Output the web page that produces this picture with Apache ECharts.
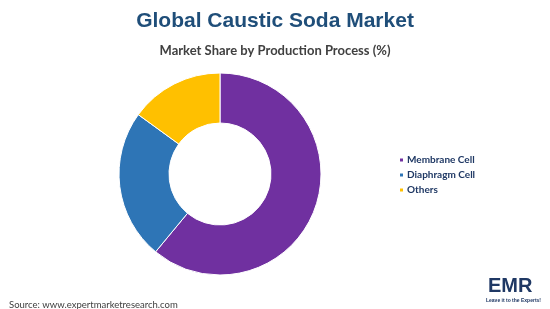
<!DOCTYPE html>
<html><head><meta charset="utf-8">
<script src="https://cdn.jsdelivr.net/npm/echarts@6/dist/echarts.min.js"></script>
<style>html,body{margin:0;padding:0;background:#fff}#c{width:550px;height:309px}</style>
</head><body><div id="c"></div>
<script>
const categories = ['Membrane Cell', 'Diaphragm Cell', 'Others'];
const shares = [61, 24, 15];
const colors = ['#7030A0', '#2E75B6', '#FFC000'];

const chart = echarts.init(document.getElementById('c'), null, {renderer: 'canvas'});
chart.setOption({
  animation: false,
  title: [
    {text: 'Global Caustic Soda Market', left: 'center', top: 6,
     textStyle: {fontFamily: 'Liberation Sans', fontWeight: 'bold', fontSize: 21, color: '#1F4E79'}},
    {text: 'Market Share by Production Process (%)', left: 'center', top: 39,
     textStyle: {fontFamily: 'Lato', fontWeight: 'bold', fontSize: 13, color: '#404040'}},
    {text: 'Source: www.expertmarketresearch.com', left: 4, top: 295,
     textStyle: {fontFamily: 'Lato', fontWeight: 'normal', fontSize: 9.5, color: '#404040'}}
  ],
  legend: {
    orient: 'vertical', left: 393, top: 150, itemGap: 5,
    itemWidth: 5, itemHeight: 5, icon: 'rect',
    textStyle: {fontFamily: 'Lato', fontWeight: 'bold', fontSize: 10, color: '#1F3864', padding: [0,0,0,-2]},
    data: categories
  },
  graphic: [
    {type: 'text', left: 488, top: 276, style: {text: 'EMR', font: 'bold 20px "Liberation Sans"', fill: '#1F3864'}},
    {type: 'text', left: 486, top: 298, style: {text: 'Leave it to the Experts!', font: 'bold 5px "Liberation Sans"', fill: '#1F3864'}}
  ],
  series: [{
    type: 'pie', center: [220, 174], radius: [51, 101],
    startAngle: 90, clockwise: true,
    label: {show: false}, labelLine: {show: false},
    itemStyle: {borderColor: '#ffffff', borderWidth: 1},
    data: categories.map((n, i) => ({name: n, value: shares[i], itemStyle: {color: colors[i]}}))
  }]
});
</script></body></html>
